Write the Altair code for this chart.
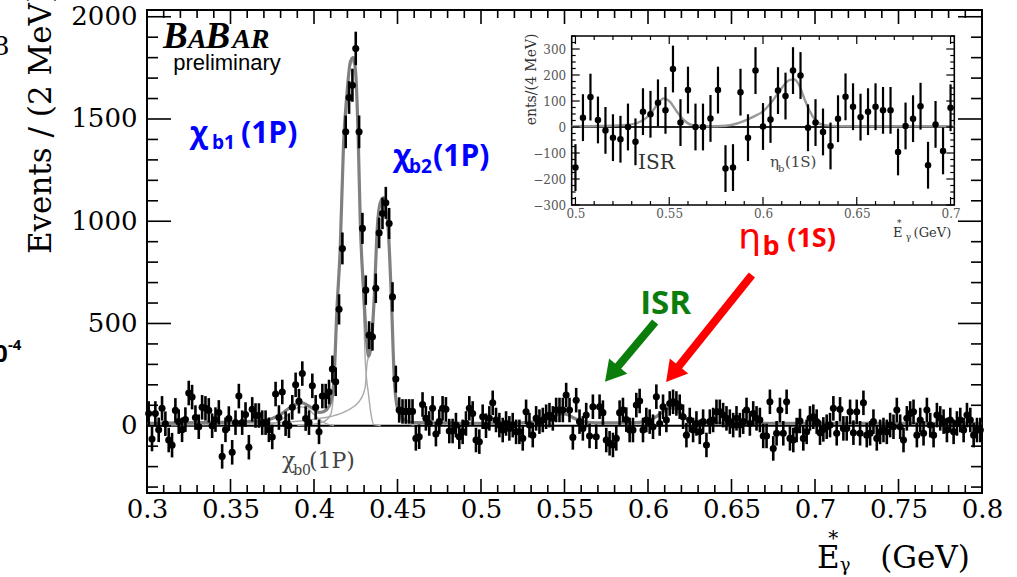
import altair as alt
import pandas as pd

# ---------------- main histogram: 2 MeV bins from 0.300 to 0.800 GeV ----------------
counts_main = [
    60, -65, 60, -20, 85, 10, -70, -95, 75, 20,
    -20, 30, 160, 140, 40, -5, 90, 85, 75, 0,
    30, 65, -150, -20, 35, -130, 15, 145, 15, 55,
    -105, 80, 50, 50, 15, 15, -20, -55, 155, 40,
    165, 10, 0, 90, 200, 120, 255, 35, 15, 195,
    90, -30, 145, 145, 165, 277, 215,
    569, 867, 1437, 1605, 1665, 1845, 1437, 965, 663, 443,
    435, 672, 943, 1038, 1090, 989, 630, 228, 77,
    70, 70, 70, 70, -62, -54, 104, 36, 11, 85,
    -41, 20, 85, 80, -26, -26, 3, -54, -30, 11,
    85, 60, -70, -78, 44, 0, 36, 112, 28, 3,
    -21, 11, -13, 3, -30, -30, -62, 68, 3, -46,
    36, 20, 28, 44, 52, 36, 77, 77, 77, 150,
    77, -57, 125, 20, -13, 52, -50, 93, -54, 93,
    64, -70, -86, -94, -62, 64, 77, 30, -21, -21,
    101, 121, -21, 28, 20, -5, 142, 11, 93, 28,
    109, 117, 109, 93, 44, -46, 28, -21, 11, -30,
    20, -94, 20, 28, 68, 68, 52, 36, 20, 3,
    36, 3, 20, 77, 11, 60, 36, 28, -50, -50,
    117, -111, -37, 77, -37, 117, -62, -70, -21, 23,
    -62, -30, 36, 44, 20, -34, -18, -5, 3, 85,
    -37, 80, -13, -13, 68, -34, 68, -37, 112, -46,
    -37, 20, -62, -30, -21, -30, 3, -5, 77, -5,
    -70, 36, 60, 68, -46, 28, -37, 77, 3, -46,
    52, 36, 20, -21, 28, -30, 11, 28, -21, 52,
    28, -46, -21, -21,
]
errors_main = [60] * 55 + [66, 70, 74, 78, 80, 80, 81, 82, 80, 76, 72,
                           68, 68, 72, 75, 77, 78, 76, 72, 66, 62] + [60] * 174
bins_main = [round(0.301 + 0.002 * i, 3) for i in range(len(counts_main))]

# total fit (thick grey)
fit_x = [0.300, 0.320, 0.340, 0.360, 0.370, 0.375, 0.380, 0.385, 0.390, 0.393,
         0.396, 0.400, 0.403, 0.406, 0.409, 0.411, 0.412, 0.4137, 0.4157, 0.4177,
         0.4197, 0.4218, 0.4235, 0.4250, 0.4265, 0.4277, 0.4297, 0.4317, 0.4327, 0.4347,
         0.4363, 0.4377, 0.4397, 0.4417, 0.4430, 0.4443, 0.4463, 0.4481, 0.4496, 0.4516,
         0.455, 0.460, 0.500, 0.520, 0.535, 0.540, 0.544, 0.548, 0.551, 0.555,
         0.560, 0.570, 0.590, 0.600, 0.605, 0.610, 0.613, 0.616, 0.620, 0.625,
         0.630, 0.650, 0.800]
fit_y = [12, 14, 16, 20, 25, 35, 55, 85, 108, 112,
         100, 80, 65, 70, 95, 150, 230, 565, 867, 1380,
         1620, 1780, 1800, 1720, 1400, 1000, 660, 400, 340, 443,
         663, 940, 1090, 1115, 1060, 980, 630, 225, 100, 52,
         25, 15, 12, 14, 22, 35, 50, 58, 56, 40,
         22, 14, 14, 25, 45, 75, 88, 85, 55, 25,
         14, 12, 12]
# chi_b2 component (thin)
c2_x = [0.300, 0.340, 0.370, 0.390, 0.400, 0.410, 0.420, 0.4277, 0.4307, 0.4317,
        0.4327, 0.4347, 0.4363, 0.4377, 0.4397, 0.4417, 0.4430, 0.4443, 0.4463, 0.4481,
        0.4496, 0.4516, 0.455, 0.460]
c2_y = [3, 6, 12, 22, 32, 45, 75, 126, 191, 300,
        340, 443, 663, 940, 1090, 1115, 1060, 980, 630, 225,
        90, 35, 10, 3]
# chi_b1 component (thin)
c1_x = [0.390, 0.400, 0.406, 0.410, 0.412, 0.4137, 0.4157, 0.4177, 0.4197, 0.4218,
        0.4235, 0.4250, 0.4265, 0.4277, 0.4297, 0.4307, 0.4327, 0.4345, 0.4357, 0.440]
c1_y = [2, 8, 20, 55, 190, 530, 845, 1360, 1600, 1760,
        1780, 1700, 1380, 980, 560, 320, 150, 40, 5, 0]
# chi_b0 component (thin)
c0_x = [0.370, 0.378, 0.384, 0.388, 0.392, 0.396, 0.400, 0.404, 0.408, 0.412]
c0_y = [3, 18, 50, 78, 92, 85, 55, 25, 8, 2]

# ---------------- inset: 4 MeV bins 0.50-0.70 GeV ----------------
counts_inset = [-156, 36, 115, 27, -13, -41, -47, 0, -57, 59,
                49, 93, 64, 223, 17, 142, 0, 0, 33, 142,
                -160, -156, 134, -41, 217, 2, 29, 140, 119, 217,
                198, -3, 17, -19, -73, 32, 116, 78, 38, 59,
                78, 64, 64, -96, 4, 32, 80, -147, 10, -92,
                74]
errors_inset = [90] * len(counts_inset)
bins_inset = [round(0.500 + 0.004 * i, 3) for i in range(len(counts_inset))]
ifit_x = [0.498, 0.520, 0.530, 0.535, 0.540, 0.544, 0.547, 0.550, 0.554, 0.558,
          0.562, 0.570, 0.580, 0.588, 0.595, 0.600, 0.605, 0.610, 0.614, 0.6165,
          0.619, 0.622, 0.625, 0.628, 0.632, 0.640, 0.702]
ifit_y = [3, 5, 10, 22, 50, 90, 110, 100, 60, 25,
          8, 3, 5, 18, 40, 60, 100, 150, 180, 183,
          165, 110, 60, 25, 8, 3, 3]

# ---------------- layout ----------------
W, H = 835, 483
IX0, IX1, IY0, IY1 = 424.7, 807.3, 195, 26   # inset frame inside plot area (px)
SERIF = "DejaVu Serif"

xs = alt.Scale(domain=[0.3, 0.8], nice=False, zero=False)
ys = alt.Scale(domain=[-329, 2033], nice=False, zero=False)
xi = alt.Scale(domain=[0.498, 0.702], range=[IX0, IX1], nice=False, zero=False)
yi = alt.Scale(domain=[-300, 350], range=[IY0, IY1], nice=False, zero=False)

AXX = alt.Axis(orient="bottom", values=[0.3, 0.35, 0.4, 0.45, 0.5, 0.55, 0.6, 0.65, 0.7, 0.75, 0.8],
               format="~g", ticks=False, domain=False, grid=False, labelFont=SERIF,
               labelFontSize=26, labelPadding=3, labelFlush=False, labelColor="black",
               labelOverlap=False, title=None)
AXY = alt.Axis(orient="left", values=[0, 500, 1000, 1500, 2000], format="d", ticks=False,
               domain=False, grid=False, labelFont=SERIF, labelFontSize=26, labelPadding=10,
               labelColor="black", labelOverlap=False,
               title="Events / (2 MeV)", titleFont=SERIF, titleFontSize=31,
               titleFontWeight="normal", titleColor="black", titleX=-97, titleY=112,
               titleAngle=270, titleAlign="center", titleBaseline="alphabetic")
AXIX = alt.Axis(orient="bottom", offset=-(H - IY0), values=[0.5, 0.55, 0.6, 0.65, 0.7],
                format="~g", ticks=False, domain=False, grid=False, labelFont=SERIF,
                labelFontSize=12, labelColor="#555", labelPadding=3, labelFlush=False,
                labelOverlap=False, title=None)
AXIY = alt.Axis(orient="left", offset=-IX0, values=[-300, -200, -100, 0, 100, 200, 300],
                format="d", ticks=False, domain=False, grid=False, labelFont=SERIF,
                labelFontSize=12, labelColor="#555", labelPadding=6, labelOverlap=False,
                title=None)


def MX(f):
    return alt.X(f, scale=xs, axis=AXX)


def MY(f):
    return alt.Y(f, scale=ys, axis=AXY)


def IXe(f):
    return alt.X(f, scale=xi, axis=AXIX)


def IYe(f):
    return alt.Y(f, scale=yi, axis=AXIY)


def text(t, x, y, inset=False, **kw):
    df = pd.DataFrame({"x": [x], "y": [y], "t": [t]})
    props = dict(align="left", baseline="alphabetic", font=SERIF, fontSize=20, color="black")
    props.update(kw)
    ex, ey = (IXe, IYe) if inset else (MX, MY)
    return alt.Chart(df).mark_text(**props).encode(x=ex("x:Q"), y=ey("y:Q"), text="t:N")


# ---------------- main layers ----------------
main_df = pd.DataFrame({"x": bins_main, "y": counts_main,
                        "lo": [c - e for c, e in zip(counts_main, errors_main)],
                        "hi": [c + e for c, e in zip(counts_main, errors_main)]})
zero_df = pd.DataFrame({"x": [0.3, 0.8], "y": [0, 0]})

zero_line = alt.Chart(zero_df).mark_line(color="black", strokeWidth=2).encode(x=MX("x:Q"), y=MY("y:Q"))
c0_line = alt.Chart(pd.DataFrame({"x": c0_x, "y": c0_y})).mark_line(
    color="#aaaaaa", strokeWidth=1.4, interpolate="monotone").encode(x=MX("x:Q"), y=MY("y:Q"))
c1_line = alt.Chart(pd.DataFrame({"x": c1_x, "y": c1_y})).mark_line(
    color="#aaaaaa", strokeWidth=1.4, interpolate="monotone").encode(x=MX("x:Q"), y=MY("y:Q"))
c2_line = alt.Chart(pd.DataFrame({"x": c2_x, "y": c2_y})).mark_line(
    color="#aaaaaa", strokeWidth=1.4, interpolate="monotone").encode(x=MX("x:Q"), y=MY("y:Q"))
fit_line = alt.Chart(pd.DataFrame({"x": fit_x, "y": fit_y})).mark_line(
    color="#808080", strokeWidth=3.2, interpolate="monotone").encode(x=MX("x:Q"), y=MY("y:Q"))
err_bars = alt.Chart(main_df).mark_rule(color="black", strokeWidth=2.6).encode(
    x=MX("x:Q"), y=MY("lo:Q"), y2="hi:Q")
pts = alt.Chart(main_df).mark_circle(color="black", size=50, opacity=1).encode(x=MX("x:Q"), y=MY("y:Q"))

xmaj = [0.3, 0.35, 0.4, 0.45, 0.5, 0.55, 0.6, 0.65, 0.7, 0.75, 0.8]
xmin = [round(0.3 + 0.01 * i, 2) for i in range(51)]
xmin = [v for v in xmin if round(v * 20, 6) != round(round(v * 20), 6)]
ymaj = [0, 500, 1000, 1500, 2000]
ymin = [v for v in range(-300, 2001, 100) if v % 500 != 0]


def xticks(vals, length):
    d = alt.Chart(pd.DataFrame({"t": vals}))
    b = d.mark_rule(color="black", strokeWidth=1.6).encode(x=MX("t:Q"), y=alt.value(H), y2=alt.value(H - length))
    t = d.mark_rule(color="black", strokeWidth=1.6).encode(x=MX("t:Q"), y=alt.value(0), y2=alt.value(length))
    return [b, t]


def yticks(vals, length):
    d = alt.Chart(pd.DataFrame({"t": vals}))
    l = d.mark_rule(color="black", strokeWidth=1.6).encode(y=MY("t:Q"), x=alt.value(0), x2=alt.value(length))
    r = d.mark_rule(color="black", strokeWidth=1.6).encode(y=MY("t:Q"), x=alt.value(W), x2=alt.value(W - length))
    return [l, r]


ticks_main = xticks(xmaj, 14) + xticks(xmin, 8) + yticks(ymaj, 24) + yticks(ymin, 11)

# arrows
arrow_df = pd.DataFrame({"x": [0.6043, 0.6622], "y": [507, 737], "x2": [0.5782, 0.6147],
                         "y2": [253, 253], "c": ["#0b7d0b", "#ff0000"], "a": [220, 219]})
arrow_shaft = alt.Chart(arrow_df).mark_rule(strokeWidth=8).encode(
    x=MX("x:Q"), y=MY("y:Q"), x2="x2:Q", y2="y2:Q", color=alt.Color("c:N", scale=None))
arrow_head = alt.Chart(arrow_df).mark_point(shape="triangle-up", filled=True, size=560, opacity=1).encode(
    x=MX("x2:Q"), y=MY("y2:Q"), color=alt.Color("c:N", scale=None), angle=alt.Angle("a:Q", scale=None))

SANS = "Open Sans"
BLUE = "#0000ff"
LS = "Liberation Serif"
ann_main = [
    text("B", 0.3096, 1847, fontSize=37, fontWeight="bold", fontStyle="italic", font=LS),
    text("A", 0.3245, 1847, fontSize=28, fontWeight="bold", fontStyle="italic", font=LS),
    text("B", 0.3350, 1847, fontSize=37, fontWeight="bold", fontStyle="italic", font=LS),
    text("AR", 0.3510, 1847, fontSize=28, fontWeight="bold", fontStyle="italic", font=LS),
    text("preliminary", 0.3479, 1739, fontSize=22, font="Liberation Sans", align="center"),
    text("\u03c7", 0.3258, 1382, fontSize=30, fontWeight="bold", font=SANS, color=BLUE),
    text("b1", 0.3389, 1353, fontSize=19, fontWeight="bold", font=SANS, color=BLUE),
    text("(1P)", 0.3563, 1382, fontSize=30, fontWeight="bold", font=SANS, color=BLUE),
    text("\u03c7", 0.4474, 1270, fontSize=30, fontWeight="bold", font=SANS, color=BLUE),
    text("b2", 0.4569, 1236, fontSize=19, fontWeight="bold", font=SANS, color=BLUE),
    text("(1P)", 0.4713, 1270, fontSize=30, fontWeight="bold", font=SANS, color=BLUE),
    text("\u03b7", 0.6540, 864, fontSize=36, font="DejaVu Sans", color="#ff0000"),
    text("b", 0.6685, 834, fontSize=27, fontWeight="bold", font=SANS, color="#ff0000"),
    text("(1S)", 0.6834, 874, fontSize=27, fontWeight="bold", font=SANS, color="#ff0000"),
    text("ISR", 0.5953, 546, fontSize=33, fontWeight="bold", font=SANS, color="#0b7d0b"),
    text("\u03c7", 0.3809, -207, fontSize=22, color="#444"),
    text("b0", 0.3875, -241, fontSize=14, color="#444"),
    text("(1P)", 0.3970, -207, fontSize=22, color="#444"),
    text("E", 0.7012, -696, fontSize=31),
    text("*", 0.7080, -585, fontSize=20),
    text("\u03b3", 0.7148, -712, fontSize=18),
    text("(GeV)", 0.7390, -696, fontSize=31),
    text("8", 0.2078, 1812, fontSize=26),
    text("0", 0.2084, 312, fontSize=24, fontWeight="bold", font=SANS),
    text("-4", 0.2167, 370, fontSize=15, fontWeight="bold", font=SANS),
]

main = alt.layer(zero_line, c0_line, c1_line, c2_line, fit_line, err_bars, pts,
                 *ticks_main, arrow_shaft, arrow_head, *ann_main)

# ---------------- inset layers ----------------
inset_df = pd.DataFrame({"x": bins_inset, "y": counts_inset,
                         "lo": [c - e for c, e in zip(counts_inset, errors_inset)],
                         "hi": [c + e for c, e in zip(counts_inset, errors_inset)]})
frame = alt.Chart(pd.DataFrame({"x0": [0.498], "x1": [0.702], "y0": [-300], "y1": [350]})).mark_rect(
    fill="white", stroke="black", strokeWidth=1.6).encode(x=IXe("x0:Q"), x2="x1:Q", y=IYe("y0:Q"), y2="y1:Q")
izero = alt.Chart(pd.DataFrame({"x": [0.498, 0.702], "y": [0, 0]})).mark_line(
    color="#222", strokeWidth=2).encode(x=IXe("x:Q"), y=IYe("y:Q"))
ifit = alt.Chart(pd.DataFrame({"x": ifit_x, "y": ifit_y})).mark_line(
    color="#999", strokeWidth=2.4, interpolate="monotone").encode(x=IXe("x:Q"), y=IYe("y:Q"))
ierr = alt.Chart(inset_df).mark_rule(color="black", strokeWidth=2.2).encode(
    x=IXe("x:Q"), y=IYe("lo:Q"), y2="hi:Q")
ipts = alt.Chart(inset_df).mark_circle(color="black", size=42, opacity=1).encode(x=IXe("x:Q"), y=IYe("y:Q"))

ixmaj = [0.5, 0.55, 0.6, 0.65, 0.7]
ixmin = [round(0.5 + 0.01 * i, 2) for i in range(21)]
ixmin = [v for v in ixmin if v not in ixmaj]
iymaj = [-300, -200, -100, 0, 100, 200, 300]
iymin = [v for v in range(-300, 351, 25) if v % 100 != 0]


def ixticks(vals, length):
    d = alt.Chart(pd.DataFrame({"t": vals}))
    b = d.mark_rule(color="black", strokeWidth=1.2).encode(x=IXe("t:Q"), y=alt.value(IY0), y2=alt.value(IY0 - length))
    t = d.mark_rule(color="black", strokeWidth=1.2).encode(x=IXe("t:Q"), y=alt.value(IY1), y2=alt.value(IY1 + length))
    return [b, t]


def iyticks(vals, length):
    d = alt.Chart(pd.DataFrame({"t": vals}))
    l = d.mark_rule(color="black", strokeWidth=1.2).encode(y=IYe("t:Q"), x=alt.value(IX0), x2=alt.value(IX0 + length))
    r = d.mark_rule(color="black", strokeWidth=1.2).encode(y=IYe("t:Q"), x=alt.value(IX1), x2=alt.value(IX1 - length))
    return [l, r]


ticks_inset = ixticks(ixmaj, 8) + ixticks(ixmin, 4) + iyticks(iymaj, 8) + iyticks(iymin, 4)

ann_inset = [
    text("ISR", 0.5334, -162, inset=True, fontSize=20, color="#333"),
    text("\u03b7", 0.6037, -155, inset=True, fontSize=15, color="#444"),
    text("b", 0.6080, -174, inset=True, fontSize=10, color="#444"),
    text("(1S)", 0.6117, -155, inset=True, fontSize=15, color="#444"),
    text("ents/(4 MeV)", 0.4790, 183, inset=True, fontSize=14, angle=270, align="center", color="#333"),
    text("E", 0.6693, -423, inset=True, fontSize=13, color="#333"),
    text("*", 0.6714, -381, inset=True, fontSize=9, color="#333"),
    text("\u03b3", 0.6761, -435, inset=True, fontSize=9, color="#333"),
    text("(GeV)", 0.6803, -423, inset=True, fontSize=13, color="#333"),
]

inset = alt.layer(frame, izero, ifit, ierr, ipts, *ticks_inset, *ann_inset)

chart = alt.layer(main, inset).resolve_scale(x="independent", y="independent").properties(
    width=W, height=H,
    autosize=alt.AutoSizeParams(type="none"),
    padding={"left": 147, "top": 10, "right": 1017 - 147 - W, "bottom": 577 - 10 - H},
    background="white",
).configure_view(stroke="black", strokeWidth=2)

chart.save("out.html", embed_options={"renderer": "svg", "actions": False})
